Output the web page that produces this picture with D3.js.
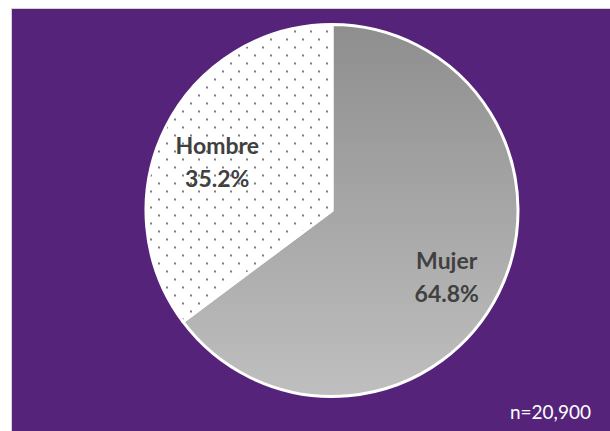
<!DOCTYPE html>
<html>
<head>
<meta charset="utf-8">
<script src="https://cdn.jsdelivr.net/npm/d3@7"></script>
<style>
  html, body { margin: 0; padding: 0; background: #fff; }
  svg { display: block; }
</style>
</head>
<body>
<svg id="chart"></svg>
<script>
const categories = ['Mujer', 'Hombre']
const values = [64.8, 35.2]
const labels = ['64.8%', '35.2%']
const sampleNote = 'n=20,900'

const width = 610
const height = 431
const cx = 332
const cy = 210.5
const radius = 186

const svg = d3.select('#chart')
  .attr('width', width)
  .attr('height', height)

const defs = svg.append('defs')

// gradient fill for the big slice (coords are inside the translated group)
const grad = defs.append('linearGradient')
  .attr('id', 'grayGrad')
  .attr('gradientUnits', 'userSpaceOnUse')
  .attr('x1', 0).attr('y1', -radius)
  .attr('x2', 0).attr('y2', radius)
grad.append('stop').attr('offset', '0%').attr('stop-color', '#8e8e8e')
grad.append('stop').attr('offset', '100%').attr('stop-color', '#bfbfbf')

// dotted pattern for the small slice
const pat = defs.append('pattern')
  .attr('id', 'dots')
  .attr('patternUnits', 'userSpaceOnUse')
  .attr('width', 16).attr('height', 16)
  .attr('x', 2).attr('y', 4)
pat.append('rect').attr('width', 16).attr('height', 16).attr('fill', '#fff')
pat.append('rect').attr('x', 0).attr('y', 0).attr('width', 2).attr('height', 2).attr('fill', '#7f7f7f')
pat.append('rect').attr('x', 8).attr('y', 8).attr('width', 2).attr('height', 2).attr('fill', '#7f7f7f')

// frame
svg.append('rect')
  .attr('x', 11.5).attr('y', 8.5)
  .attr('width', width).attr('height', height)
  .attr('fill', '#55247a')
  .attr('stroke', '#d4d4d4')
  .attr('stroke-width', 1)

const pie = d3.pie().sort(null).value(d => d)
const arcs = pie(values)
const arc = d3.arc().innerRadius(0).outerRadius(radius)
const labelArc = d3.arc().innerRadius(radius * 0.68).outerRadius(radius * 0.7)
const fills = ['url(#grayGrad)', 'url(#dots)']

const g = svg.append('g').attr('transform', `translate(${cx},${cy})`)

g.selectAll('path').data(arcs).enter()
  .append('path')
  .attr('d', arc)
  .attr('fill', (d, i) => fills[i])
  .attr('stroke', '#fff')
  .attr('stroke-width', 3)
  .attr('stroke-linejoin', 'round')

const lbl = g.selectAll('text.lbl').data(arcs).enter()
  .append('text')
  .attr('class', 'lbl')
  .attr('transform', d => {
    const [x, y] = labelArc.centroid(d)
    return `translate(${x},${y + 6})`
  })
  .attr('text-anchor', 'middle')
  .style('font-family', 'Lato, "Open Sans", sans-serif')
  .style('font-weight', 'bold')
  .style('font-size', '23px')
  .attr('fill', '#404040')

lbl.append('tspan').attr('x', 0).attr('dy', '-0.2em').text((d, i) => categories[i])
lbl.append('tspan').attr('x', 0).attr('dy', '1.42em').text((d, i) => labels[i])

svg.append('text')
  .attr('x', 591).attr('y', 419)
  .attr('text-anchor', 'end')
  .style('font-family', 'Lato, "Open Sans", sans-serif')
  .style('font-size', '19px')
  .attr('fill', '#fff')
  .text(sampleNote)
</script>
</body>
</html>
